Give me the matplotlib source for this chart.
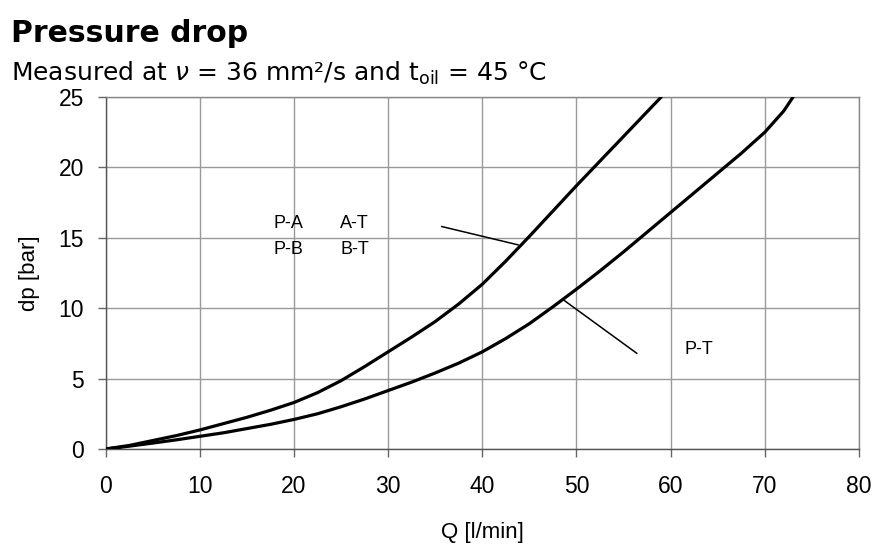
import matplotlib
matplotlib.use("Agg")
import matplotlib.pyplot as plt

plt.rcParams['font.family'] = ['Liberation Sans', 'DejaVu Sans']

# Data
q_pa = [0, 2.5, 5, 7.5, 10, 12.5, 15, 17.5, 20, 22.5, 25, 27.5, 30, 32.5, 35,
        37.5, 40, 42.5, 45, 47.5, 50, 52.5, 55, 57.5, 59]
dp_pa = [0, 0.25, 0.6, 0.95, 1.35, 1.8, 2.25, 2.75, 3.3, 4.0, 4.85, 5.85, 6.9, 7.95, 9.05,
         10.3, 11.7, 13.35, 15.1, 16.9, 18.7, 20.45, 22.2, 23.95, 25.0]

q_pt = [0, 2.5, 5, 7.5, 10, 12.5, 15, 17.5, 20, 22.5, 25, 27.5, 30, 32.5, 35, 37.5,
        40, 42.5, 45, 47.5, 50, 52.5, 55, 57.5, 60, 62.5, 65, 67.5, 70, 72, 73]
dp_pt = [0, 0.2, 0.42, 0.65, 0.9, 1.15, 1.45, 1.75, 2.1, 2.5, 3.0, 3.55, 4.15, 4.75, 5.4, 6.1,
         6.9, 7.85, 8.9, 10.1, 11.35, 12.65, 14.0, 15.4, 16.8, 18.2, 19.6, 21.0, 22.5, 24.0, 25.0]

x_ticks = [0, 10, 20, 30, 40, 50, 60, 70, 80]
y_ticks = [0, 5, 10, 15, 20, 25]

title = "Pressure drop"
subtitle = r"Measured at $\nu$ = 36 mm²/s and t$_{\mathregular{oil}}$ = 45 °C"
xlabel = "Q [l/min]"
ylabel = "dp [bar]"

fig = plt.figure(figsize=(8.77, 5.44), dpi=100)
ax = fig.add_axes([0.1203, 0.1746, 0.8592, 0.6471])

ax.plot(q_pa, dp_pa, color='black', lw=2.3, solid_capstyle='round',
        solid_joinstyle='round', zorder=3)
ax.plot(q_pt, dp_pt, color='black', lw=2.3, solid_capstyle='round',
        solid_joinstyle='round', zorder=3)

# leader lines
ax.plot([35.7, 43.8], [15.8, 14.5], color='black', lw=1.1, zorder=3)
ax.plot([48.6, 56.4], [10.6, 6.8], color='black', lw=1.1, zorder=3)

ann_fs = 13
ax.text(17.8, 16.0, "P-A", fontsize=ann_fs, va='center', ha='left')
ax.text(24.9, 16.0, "A-T", fontsize=ann_fs, va='center', ha='left')
ax.text(17.8, 14.2, "P-B", fontsize=ann_fs, va='center', ha='left')
ax.text(24.9, 14.2, "B-T", fontsize=ann_fs, va='center', ha='left')
ax.text(61.5, 7.1, "P-T", fontsize=ann_fs, va='center', ha='left')

ax.set_xlim(0, 80)
ax.set_ylim(0, 25)
ax.set_xticks(x_ticks)
ax.set_yticks(y_ticks)
ax.grid(True, color='#999999', lw=1.0)
ax.set_axisbelow(True)
for s in ax.spines.values():
    s.set_color('#888888')
    s.set_linewidth(1.0)
ax.spines['bottom'].set_color('#555555')
ax.spines['left'].set_color('#555555')
ax.tick_params(axis='both', direction='out', length=6, width=1, color='#666666',
               labelsize=16.5)
ax.tick_params(axis='x', pad=13)
ax.tick_params(axis='y', pad=9.5)

ax.set_xlabel(xlabel, fontsize=16, labelpad=17)
ax.set_ylabel(ylabel, fontsize=16, labelpad=13)

fig.text(11 / 877, 1 - 42 / 544, title, fontsize=21.5, fontweight='bold',
         family='DejaVu Sans', ha='left', va='baseline')
fig.text(11 / 877, 1 - 81 / 544, subtitle, fontsize=18, family='DejaVu Sans',
         ha='left', va='baseline')

fig.savefig("out.png", dpi=100)
